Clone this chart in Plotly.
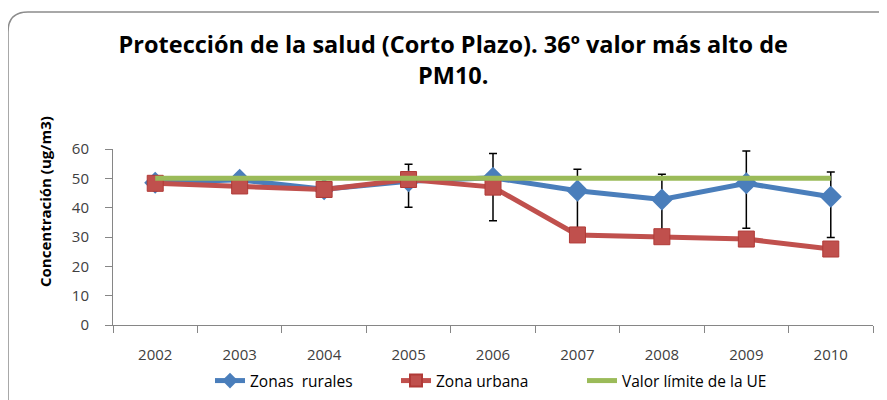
import plotly.graph_objects as go

# Datos
anios = ['2002', '2003', '2004', '2005', '2006', '2007', '2008', '2009', '2010']
zonas_rurales = [48.5, 49.5, 46.3, 49.0, 50.2, 45.8, 42.8, 48.3, 43.7]
zona_urbana = [48.3, 47.4, 46.2, 49.6, 47.0, 30.7, 30.1, 29.3, 25.9]
valor_limite = [50, 50, 50, 50, 50, 50, 50, 50, 50]

# Límites de las barras de error (zonas rurales)
error_sup = [None, None, None, 54.8, 58.5, 53.1, 51.4, 59.3, 52.2]
error_inf = [None, None, None, 40.1, 35.5, 31.0, 30.5, 33.0, 29.8]

err_plus = [s - v if s is not None else None for s, v in zip(error_sup, zonas_rurales)]
err_minus = [v - i if i is not None else None for i, v in zip(error_inf, zonas_rurales)]

AZUL = '#4a7ebb'
ROJO = '#c0504d'
VERDE = '#9bbb59'

fig = go.Figure()

fig.add_trace(go.Scatter(
    x=anios, y=zonas_rurales, name='Zonas  rurales', mode='lines+markers',
    line=dict(color=AZUL, width=5),
    marker=dict(symbol='diamond', size=17, color=AZUL),
    error_y=dict(type='data', symmetric=False, array=err_plus, arrayminus=err_minus,
                 color='black', thickness=1.5, width=4),
))
fig.add_trace(go.Scatter(
    x=anios, y=zona_urbana, name='Zona urbana', mode='lines+markers',
    line=dict(color=ROJO, width=5),
    marker=dict(symbol='square', size=16, color=ROJO, line=dict(color='#b03a37', width=1)),
))
fig.add_trace(go.Scatter(
    x=anios, y=valor_limite, name='Valor límite de la UE', mode='lines',
    line=dict(color=VERDE, width=5),
))

# la página deja 8px de margen al cuerpo: se compensa aquí
OFF = 8
# área de trazado en pantalla: x 113..873, y 149..325
L, R, T, B = 113 - OFF, 887 - (873 - OFF), 149 - OFF, 400 - (325 - OFF)
W, H = 887 - L - R, 400 - T - B
def px(xs):
    return (xs - OFF - L) / W
def py(ys):
    return (400 - (ys - OFF) - B) / H

# marco redondeado del gráfico
x0, x1, y0, y1 = px(8), px(900), py(12), py(410)
rx, ry = 20 / W, 20 / H
marco = (f'M {x0},{y1} L {x0},{y0 - ry} Q {x0},{y0} {x0 + rx},{y0} '
         f'L {x1},{y0}')
fig.add_shape(type='path', path=marco, xref='paper', yref='paper',
              line=dict(color='#8c8c8c', width=1.5))

# título del eje Y como anotación (no está centrado en el eje)
fig.add_annotation(text='<b>Concentración (ug/m3)</b>', xref='paper', yref='paper',
                   x=px(45), y=py(202), xanchor='center', yanchor='middle',
                   textangle=-90, showarrow=False,
                   font=dict(size=15, color='black'))

fig.update_layout(
    width=887, height=400,
    margin=dict(l=L, r=R, t=T, b=B, autoexpand=False),
    paper_bgcolor='white', plot_bgcolor='white',
    font=dict(family='Open Sans, sans-serif', color='#404040'),
    title=dict(
        text='Protección de la salud (Corto Plazo). 36º valor más alto de<br>PM10.',
        x=0.502, xanchor='center', y=0.8875, yanchor='middle',
        font=dict(size=23.5, color='black', family='Open Sans, sans-serif', weight='bold'),
    ),
    showlegend=True,
    legend=dict(orientation='h', x=px(210), xanchor='left', y=py(381), yanchor='middle',
                font=dict(size=15.5, color='black'), entrywidth=141,
                entrywidthmode='pixels', traceorder='normal', itemsizing='constant'),
    xaxis=dict(type='category', tickson='boundaries', ticks='outside', ticklen=7,
               tickcolor='#868686', showline=True, linecolor='#868686', linewidth=1,
               showgrid=False, tickfont=dict(size=15, color='#404040'),
               ticklabelstandoff=16, range=[-0.5, 8.5], automargin=False),
    yaxis=dict(range=[0, 60], dtick=10, ticks='outside', ticklen=7, tickcolor='#868686',
               showline=True, linecolor='#868686', linewidth=1, showgrid=False,
               zeroline=False, tickfont=dict(size=15, color='#404040'),
               ticklabelstandoff=13, automargin=False),
)

fig.write_html('out.html')
